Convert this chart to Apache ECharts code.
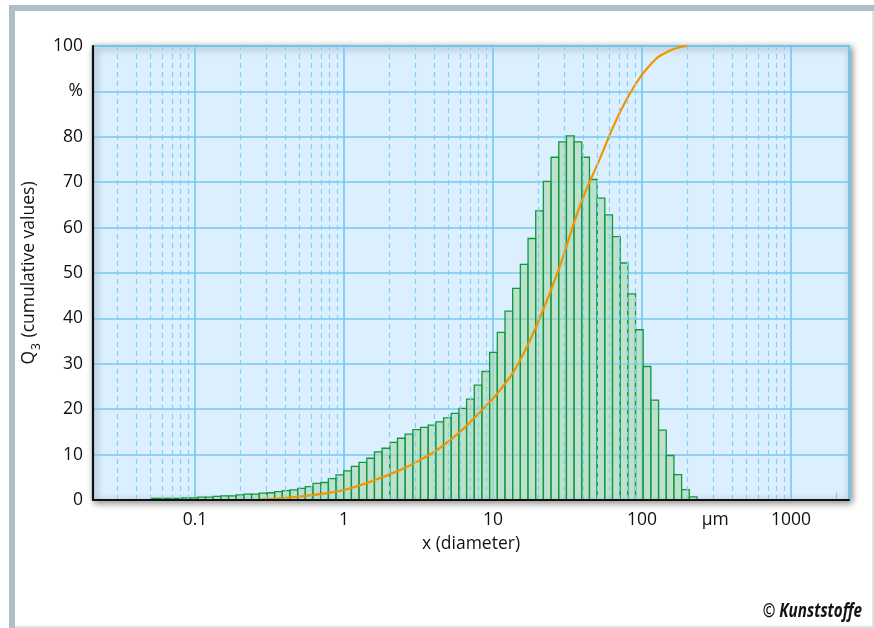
<!DOCTYPE html>
<html><head><meta charset="utf-8">
<script src="https://cdn.jsdelivr.net/npm/echarts@6/dist/echarts.min.js"></script>
<style>html,body{margin:0;padding:0;background:#fff}#c{width:874px;height:628px}</style>
</head><body><div id="c"></div>
<script>
// ---- data ----
const binEdges = [0.0512,0.0577,0.0649,0.0731,0.0823,0.0927,0.1044,0.1175,0.1323,0.1490,0.1678,0.1889,0.2127,0.2395,0.2697,0.3037,0.3419,0.3850,0.4335,0.4882,0.5497,0.6189,0.6969,0.7847,0.8836,0.9949,1.120,1.261,1.420,1.599,1.801,2.028,2.283,2.571,2.895,3.260,3.671,4.133,4.654,5.240,5.900,6.644,7.481,8.424,9.485,10.68,12.03,13.54,15.25,17.17,19.33,21.77,24.51,27.60,31.08,34.99,39.40,44.36,49.95,56.25,63.34,71.32,80.30,90.42,101.8,114.6,129.1,145.4,163.7,184.3,207.5,233.7];
const binHeights = [0.35,0.35,0.35,0.35,0.45,0.45,0.65,0.65,0.8,0.9,0.9,1.15,1.3,1.3,1.5,1.6,1.85,2.05,2.25,2.55,2.95,3.65,3.85,4.7,5.55,6.4,7.4,8.3,9.2,10.6,11.4,12.7,13.6,14.5,15.5,16.0,16.5,17.2,18.1,19.1,20.2,22.2,25.3,28.3,32.5,36.9,41.6,46.6,51.9,57.6,63.7,70.2,75.5,78.9,80.2,78.9,75.5,70.6,66.5,62.8,58.0,52.2,45.4,37.5,29.4,22.0,15.4,9.8,5.6,2.3,0.7];
const cumDiameters = [0.273,0.434,0.690,1.0,1.494,2.376,3.24,4.41,6.00,8.18,11.14,15.18,20.7,28.2,38.4,52.3,68.0,87.1,113.2,147.2,200.4];
const cumValues = [0.1,0.55,1.3,2.2,4.0,6.6,8.8,11.5,15.0,19.4,24.2,30.8,40.3,51.7,64.9,75.3,84.1,90.7,95.8,98.7,100];
const yTickLabels = ['0','10','20','30','40','50','60','70','80','%','100'];
const xTickValues = [0.1,1,10,100,1000];
const xTickLabels = ['0.1','1','10','100','1000'];
const minorGridValues = [0.03,0.04,0.05,0.06,0.07,0.08,0.09,0.2,0.3,0.4,0.5,0.6,0.7,0.8,0.9,2,3,4,5,6,7,8,9,20,30,40,50,60,70,80,90,200,300,400,500,600,700,800,900];
const shortTickValue = 2000;
const unitLabelValue = 310, unitLabelText = 'µm';
const xMin = 0.02065, xMax = 2449;
const xName = 'x (diameter)';
const copyright = '© Kunststoffe';

const histData = binHeights.map((h, i) => [binEdges[i], binEdges[i + 1], h]);
const cumData = cumDiameters.map((d, i) => [d, cumValues[i]]);

const FONT = '"Open Sans", "Noto Sans", sans-serif';
const gridBlue = '#74c8f0';
const chart = echarts.init(document.getElementById('c'), null, {renderer: 'canvas'});

const option = {
  animation: false,
  backgroundColor: '#ffffff',
  grid: {
    left: 93, right: 25, top: 46, bottom: 128,
    show: true, backgroundColor: '#dcefff', borderColor: '#5ec0ef', borderWidth: 2,
    shadowBlur: 7, shadowColor: 'rgba(0,0,0,0.45)', shadowOffsetX: 2, shadowOffsetY: 2
  },
  xAxis: [{
    type: 'log', min: xMin, max: xMax, logBase: 10,
    name: xName, nameLocation: 'middle', nameGap: 35,
    nameTextStyle: {fontFamily: FONT, fontSize: 17.5, color: '#111'},
    axisLine: {show: false}, axisTick: {show: false},
    axisLabel: {
      fontFamily: FONT, fontSize: 17.5, color: '#111', margin: 11,
      showMinLabel: false, showMaxLabel: false,
      formatter: v => {
        for (let i = 0; i < xTickValues.length; i++) {
          if (Math.abs(Math.log10(v) - Math.log10(xTickValues[i])) < 1e-6) return xTickLabels[i];
        }
        return '';
      }
    },
    splitLine: {show: true, lineStyle: {color: gridBlue, width: 1.6}}
  }, {
    type: 'log', min: xMin, max: xMax, logBase: 10, position: 'bottom', z: 20,
    axisLine: {show: true, lineStyle: {color: '#111', width: 2.2}},
    axisTick: {show: false}, axisLabel: {show: false}, splitLine: {show: false}
  }],
  yAxis: [{
    type: 'value', min: 0, max: 100, interval: 10,
    name: '{q|Q}{s|3}{q| (cumulative values)}', nameLocation: 'middle', nameGap: 42,
    nameTextStyle: {
      fontFamily: FONT, fontSize: 17.5, color: '#111',
      rich: {
        q: {fontFamily: FONT, fontSize: 17.5, color: '#111'},
        s: {fontFamily: FONT, fontSize: 12, color: '#111', verticalAlign: 'bottom', padding: [0, 1, 0, 1], lineHeight: 26}
      }
    },
    axisLine: {show: false}, axisTick: {show: false},
    axisLabel: {
      fontFamily: FONT, fontSize: 17.5, color: '#111', margin: 10,
      formatter: v => yTickLabels[Math.round(v / 10)] || ''
    },
    splitLine: {show: true, lineStyle: {color: gridBlue, width: 1.6}}
  }, {
    type: 'value', min: 0, max: 100, interval: 10, position: 'left', z: 20,
    axisLine: {show: true, onZero: false, lineStyle: {color: '#111', width: 2.2}},
    axisTick: {show: false}, axisLabel: {show: false}, splitLine: {show: false}
  }],
  series: [
    {
      type: 'line', data: [], z: 1, silent: true,
      markLine: {
        silent: true, symbol: 'none', animation: false,
        label: {show: false},
        lineStyle: {type: [5, 4], color: '#80d0f4', width: 1.2},
        emphasis: {disabled: true},
        data: minorGridValues.map(v => ({xAxis: v})).concat([
          [{coord: [shortTickValue, 0], lineStyle: {type: 'solid', color: '#80d0f4', width: 1.4}},
           {coord: [shortTickValue, 1.7]}]
        ])
      }
    },
    {
      type: 'custom', z: 3, data: histData, encode: {x: [0, 1], y: 2},
      renderItem: (params, api) => {
        const p0 = api.coord([api.value(0), api.value(2)]);
        const p1 = api.coord([api.value(1), 0]);
        return {
          type: 'rect',
          shape: {x: p0[0], y: p0[1], width: p1[0] - p0[0], height: p1[1] - p0[1]},
          style: {fill: 'rgba(168,216,176,0.62)', stroke: '#13973c', lineWidth: 1.3}
        };
      }
    },
    {
      type: 'line', z: 4, data: cumData, smooth: 0.5,
      showSymbol: false, symbol: 'none',
      lineStyle: {color: '#f29400', width: 2.2}
    }
  ]
};
chart.setOption(option);

const ux = chart.convertToPixel({xAxisIndex: 0}, unitLabelValue);
const baseY = chart.convertToPixel({yAxisIndex: 0}, 0);
chart.setOption({
  graphic: [
    {type: 'rect', left: 9, top: 5, shape: {width: 865, height: 6}, style: {fill: '#aebfc9'}, silent: true},
    {type: 'rect', left: 9, top: 5, shape: {width: 6, height: 623}, style: {fill: '#aebfc9'}, silent: true},
    {type: 'rect', left: 872, top: 11, shape: {width: 2, height: 617}, style: {fill: '#dde3e7'}, silent: true},
    {type: 'rect', left: 15, top: 626, shape: {width: 859, height: 2}, style: {fill: '#dde3e7'}, silent: true},
    {type: 'text', x: ux, y: baseY + 11, silent: true,
     style: {text: unitLabelText, font: '17.5px ' + FONT, fill: '#111', align: 'center', verticalAlign: 'top'}},
    {type: 'group', x: 862, y: 621, scaleX: 0.8, silent: true, children: [
      {type: 'text', x: 0, y: 0,
       style: {text: copyright, font: 'italic bold 19px "Open Sans", "DejaVu Sans", sans-serif', fill: '#111', align: 'right', verticalAlign: 'bottom'}}
    ]}
  ]
});
</script>
</body></html>
